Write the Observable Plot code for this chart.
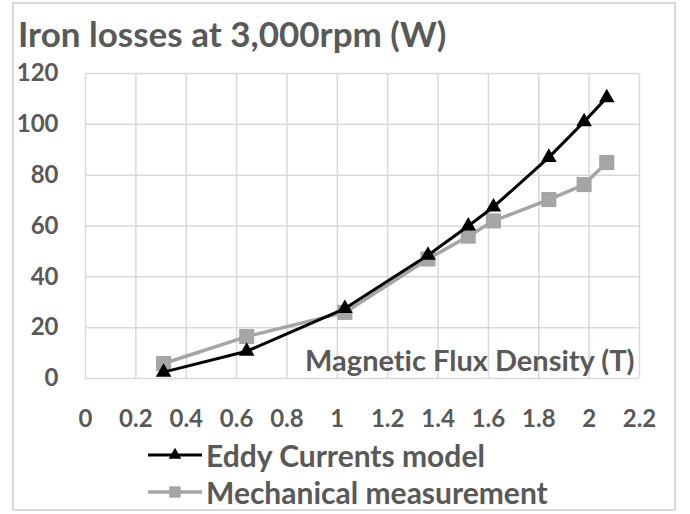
<!DOCTYPE html>
<html>
<head>
<meta charset="utf-8">
<script src="https://cdn.jsdelivr.net/npm/d3@7"></script>
<script src="https://cdn.jsdelivr.net/npm/@observablehq/plot@0.6"></script>
<style>
  html, body { margin: 0; padding: 0; background: #fff; }
  #wrap { position: relative; width: 690px; height: 514px; overflow: hidden; font-family: Lato, "Open Sans", sans-serif; color: #595959; font-weight: bold; font-variant-ligatures: none; }
  #border { position: absolute; left: 12px; top: 2px; width: 664px; height: 509px; border: 2px solid #d9d9d9; box-sizing: border-box; }
  #title { position: absolute; left: 18px; top: 11px; font-size: 35px; line-height: 44px; white-space: nowrap; }
  #chart { position: absolute; left: 0; top: 0; }
  #chart svg { font-variant-ligatures: none; }
  .leg { position: absolute; left: 147px; height: 30px; display: flex; align-items: center; font-size: 30px; white-space: nowrap; }
  .leg svg { margin-right: 3px; }
</style>
</head>
<body>
<div id="wrap">
  <div id="border"></div>
  <div id="chart"></div>
  <div id="title">Iron losses at 3,000rpm (W)</div>
  <div class="leg" id="leg1" style="top:440px"></div>
  <div class="leg" id="leg2" style="top:477px"></div>
</div>
<script>
// Data
const fluxDensity = [0.31, 0.64, 1.03, 1.36, 1.52, 1.62, 1.84, 1.98, 2.07];
const eddyCurrents = [2.5, 10.7, 27.5, 48.5, 60, 67.5, 87, 101, 110.5];
const mechanical = [5.9, 16.5, 26, 47, 56, 62, 70.4, 76.3, 85];
const xTicks = [0, 0.2, 0.4, 0.6, 0.8, 1, 1.2, 1.4, 1.6, 1.8, 2, 2.2];
const yTicks = [0, 20, 40, 60, 80, 100, 120];
const seriesNames = ["Eddy Currents model", "Mechanical measurement"];
const xLabel = "Magnetic Flux Density (T)";

const eddy = fluxDensity.map((x, i) => ({x, y: eddyCurrents[i]}));
const mech = fluxDensity.map((x, i) => ({x, y: mechanical[i]}));

const black = "#000000";
const gray = "#a5a5a5";

const chart = Plot.plot({
  width: 690,
  height: 440,
  marginTop: 73,
  marginLeft: 85,
  marginRight: 51,
  marginBottom: 62,
  style: { fontFamily: "Lato, sans-serif", fontWeight: "bold", color: "#595959", background: "transparent", overflow: "visible" },
  x: { domain: [0, 2.2] },
  y: { domain: [0, 120] },
  marks: [
    Plot.gridX(xTicks, { stroke: "#d9d9d9", strokeOpacity: 1, strokeWidth: 1.5 }),
    Plot.gridY(yTicks, { stroke: "#d9d9d9", strokeOpacity: 1, strokeWidth: 1.5 }),
    Plot.axisX(xTicks, { tickSize: 0, tickPadding: 31, fontSize: 24, tickFormat: d => String(+d.toFixed(1)), label: null }),
    Plot.axisY(yTicks, { tickSize: 0, tickPadding: 27, fontSize: 24, label: null }),
    Plot.text([xLabel], { text: d => d, frameAnchor: "bottom-right", textAnchor: "end", lineAnchor: "bottom", dx: -5, dy: -8, fontSize: 29, fill: "#595959" }),
    Plot.line(mech, { x: "x", y: "y", stroke: gray, strokeWidth: 3.5 }),
    Plot.dot(mech, { x: "x", y: "y", symbol: "square", r: 8.5, fill: gray, stroke: "none" }),
    Plot.line(eddy, { x: "x", y: "y", stroke: black, strokeWidth: 3 }),
    Plot.dot(eddy, { x: "x", y: "y", symbol: "triangle", r: 5.8, fill: black, stroke: "none" })
  ]
});
document.getElementById("chart").appendChild(chart);

function legendItem(el, name, color, sym, width) {
  const ns = "http://www.w3.org/2000/svg";
  const svg = document.createElementNS(ns, "svg");
  svg.setAttribute("width", 56); svg.setAttribute("height", 24);
  const line = document.createElementNS(ns, "line");
  line.setAttribute("x1", 1); line.setAttribute("x2", 55); line.setAttribute("y1", 12); line.setAttribute("y2", 12);
  line.setAttribute("stroke", color); line.setAttribute("stroke-width", width);
  svg.appendChild(line);
  const p = document.createElementNS(ns, "path");
  p.setAttribute("d", sym);
  p.setAttribute("transform", "translate(28,12)");
  p.setAttribute("fill", color);
  svg.appendChild(p);
  el.appendChild(svg);
  const span = document.createElement("span");
  span.textContent = name;
  el.appendChild(span);
}
legendItem(document.getElementById("leg1"), seriesNames[0], black, d3.symbol(d3.symbolTriangle, 70)(), 3);
legendItem(document.getElementById("leg2"), seriesNames[1], gray, d3.symbol(d3.symbolSquare, 130)(), 3.5);
</script>
</body>
</html>
